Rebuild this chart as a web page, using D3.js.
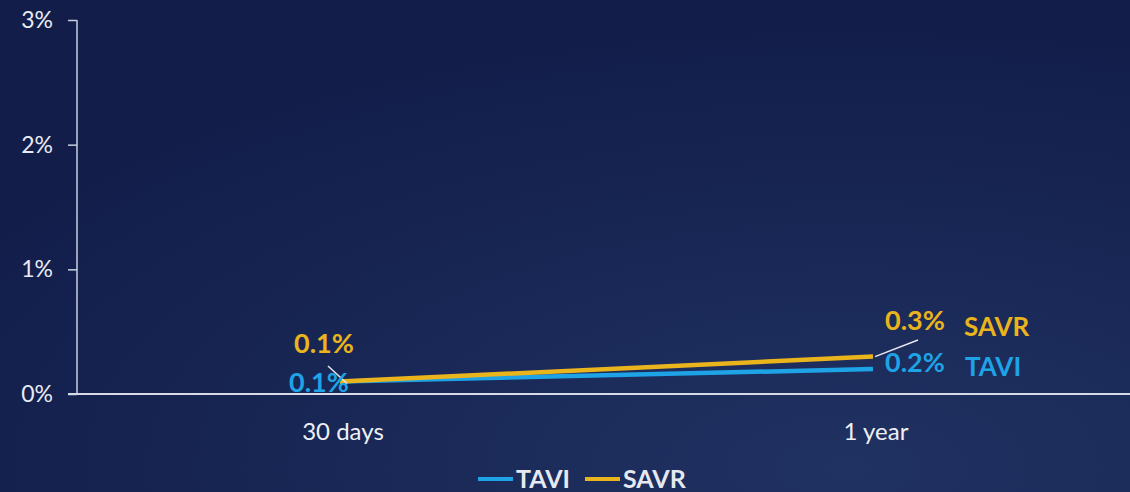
<!DOCTYPE html>
<html>
<head>
<meta charset="utf-8">
<script src="https://cdn.jsdelivr.net/npm/d3@7/dist/d3.min.js"></script>
<style>
  html, body { margin: 0; padding: 0; background: #14204c; }
  svg { display: block; }
  text { font-family: Lato, "Open Sans", sans-serif; }
</style>
</head>
<body>
<svg id="chart" width="1130" height="492"></svg>
<script>
// Time points and event rates (%)
const categories = ["30 days", "1 year"];
const taviValues = [0.1, 0.2];
const savrValues = [0.1, 0.3];
const yTicks = [0, 1, 2, 3];
const seriesNames = ["TAVI", "SAVR"];
const seriesColors = { TAVI: "#1ea4e6", SAVR: "#e9b41c" };

const W = 1130, H = 492;
const svg = d3.select("#chart");

// Background gradient
const defs = svg.append("defs");
const grad = defs.append("radialGradient").attr("id", "bg")
  .attr("cx", "75%").attr("cy", "95%").attr("r", "90%");
grad.append("stop").attr("offset", "0%").attr("stop-color", "#203262");
grad.append("stop").attr("offset", "100%").attr("stop-color", "#121d4a");
svg.append("rect").attr("width", W).attr("height", H).attr("fill", "url(#bg)");

const x = d3.scalePoint().domain(categories).range([340, 873]);
const y = d3.scaleLinear().domain([0, 3]).range([394, 20]);

// Y axis
const yAxis = svg.append("g").attr("transform", "translate(77,0)")
  .call(d3.axisLeft(y).tickValues(yTicks).tickFormat(d => d + "%").tickSize(9).tickPadding(15));
yAxis.select(".domain").attr("stroke", "#c9cfdf").attr("stroke-width", 1.5).attr("d", `M0,${y(3)}V${y(0)}`);
yAxis.selectAll(".tick line").attr("stroke", "#c9cfdf").attr("stroke-width", 1.5);
yAxis.selectAll(".tick text").attr("fill", "#e8ebf2").attr("font-size", 23)
  .attr("font-weight", 400).attr("font-family", "Lato, sans-serif");

// X baseline
svg.append("line").attr("x1", 68).attr("x2", W).attr("y1", y(0)).attr("y2", y(0))
  .attr("stroke", "#d7dbe6").attr("stroke-width", 2);

// Category labels
svg.selectAll(".cat").data(categories).enter().append("text")
  .attr("x", d => x(d) + 3).attr("y", 440).attr("text-anchor", "middle")
  .attr("fill", "#eef0f5").attr("font-size", 24).attr("font-weight", 400).text(d => d);

// Lines
const line = d3.line().x((d, i) => x(categories[i])).y(d => y(d));
const series = [
  { name: "TAVI", values: taviValues },
  { name: "SAVR", values: savrValues }
];
svg.selectAll(".series").data(series).enter().append("path")
  .attr("d", d => line(d.values)).attr("fill", "none")
  .attr("stroke", d => seriesColors[d.name]).attr("stroke-width", 4.5);

// Leader lines from labels to points
const leaders = [
  { from: [328, 366], to: [x(categories[0]) + 7, y(savrValues[0]) + 2] },
  { from: [918, 340], to: [x(categories[1]) + 2, y(savrValues[1])] }
];
svg.selectAll(".leader").data(leaders).enter().append("line")
  .attr("x1", d => d.from[0]).attr("y1", d => d.from[1])
  .attr("x2", d => d.to[0]).attr("y2", d => d.to[1])
  .attr("stroke", "#e6e9f2").attr("stroke-width", 1.5);

// Value labels
const fmt = v => v.toFixed(1) + "%";
const valueLabels = [
  { text: fmt(savrValues[0]), x: 294, y: 353, color: seriesColors.SAVR },
  { text: fmt(taviValues[0]), x: 289, y: 392, color: seriesColors.TAVI },
  { text: fmt(savrValues[1]), x: 885, y: 330, color: seriesColors.SAVR },
  { text: fmt(taviValues[1]), x: 885, y: 372, color: seriesColors.TAVI },
  { text: "SAVR", x: 964, y: 336, color: seriesColors.SAVR },
  { text: "TAVI", x: 965, y: 376, color: seriesColors.TAVI }
];
svg.selectAll(".vlabel").data(valueLabels).enter().append("text")
  .attr("x", d => d.x).attr("y", d => d.y).attr("fill", d => d.color)
  .attr("font-size", d => d.text.includes("%") ? 27 : 26).attr("font-weight", 700).text(d => d.text);

// Legend
const legend = svg.append("g");
const legendX = [478, 585];
seriesNames.forEach((name, i) => {
  legend.append("line").attr("x1", legendX[i]).attr("x2", legendX[i] + 35)
    .attr("y1", 479).attr("y2", 479).attr("stroke", seriesColors[name]).attr("stroke-width", 4);
  legend.append("text").attr("x", legendX[i] + 38).attr("y", 488)
    .attr("fill", "#e6e9f1").attr("font-size", 25).attr("font-weight", 700).text(name);
});
</script>
</body>
</html>
